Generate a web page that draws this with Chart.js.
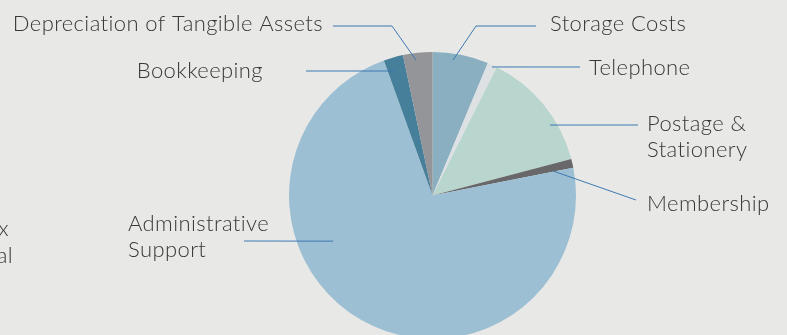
<!DOCTYPE html>
<html>
<head>
<meta charset="utf-8">
<script src="https://cdn.jsdelivr.net/npm/chart.js@4.4.1/dist/chart.umd.min.js"></script>
<style>
  html, body { margin: 0; padding: 0; background: #e8e8e7; }
  #wrap { width: 787px; height: 335px; overflow: hidden; position: relative; }
  canvas { display: block; }
</style>
</head>
<body>
<div id="wrap"><canvas id="c" width="787" height="345"></canvas></div>
<script>
// Office expense breakdown (% of total)
const categories = ['Storage Costs', 'Telephone', 'Postage & Stationery', 'Membership',
                    'Administrative Support', 'Bookkeeping', 'Depreciation of Tangible Assets'];
const shares = [6.3, 1.1, 13.5, 1.0, 72.6, 2.2, 3.3];
const sliceColors = ['#8aafc0', '#dde1e3', '#b8d5ce', '#68686b', '#9dbfd3', '#467f99', '#939599'];

// Label text per category (line breaks as shown)
const labelLines = [
  ['Storage Costs'], ['Telephone'], ['Postage &', 'Stationery'], ['Membership'],
  ['Administrative', 'Support'], ['Bookkeeping'], ['Depreciation of Tangible Assets']
];

// Callout layout: where the leader touches the slice (t = fraction across the slice angle,
// r = fraction of radius), the bend/end points of the leader, and text anchor.
const callouts = [
  { t: 0.38, r: 0.955, path: [[476, 26], [536, 26]], tx: 550, ty: 31, align: 'left' },
  { t: 0.545, r: 0.987, path: [[580, 67]], tx: 589, ty: 75, align: 'left' },
  { t: 0.667, r: 0.955, path: [[638, 125]], tx: 647, ty: 131, align: 'left' },
  { t: 0.91, r: 0.857, path: [[636, 200]], tx: 647, ty: 211, align: 'left' },
  { t: 0.637, r: 0.762, path: [[244, 241]], tx: 128, ty: 231, align: 'left' },
  { t: 0.384, r: 0.906, path: [[306, 71]], tx: 263, ty: 78, align: 'right' },
  { t: 0.416, r: 0.951, path: [[392, 26], [333, 26]], tx: 323, ty: 31, align: 'right' }
];

// Neighbouring label that runs off the left edge
const clippedLabel = { lines: ['Accountancy & Tax', 'Professional'], ends: [9, 13], baselines: [236, 263] };

const FONT = '300 22px Lato, "Open Sans", sans-serif';
const LINE_H = 26;

const calloutPlugin = {
  id: 'callouts',
  afterDatasetsDraw(chart) {
    const ctx = chart.ctx;
    const meta = chart.getDatasetMeta(0);
    ctx.save();
    ctx.strokeStyle = '#3d78b0';
    ctx.lineWidth = 1;
    ctx.font = FONT;
    ctx.letterSpacing = '0.4px';
    ctx.fillStyle = '#383838';
    ctx.textBaseline = 'alphabetic';
    callouts.forEach((c, i) => {
      const arc = meta.data[i];
      const a = arc.startAngle + c.t * (arc.endAngle - arc.startAngle);
      const rr = c.r * arc.outerRadius;
      const x0 = arc.x + rr * Math.cos(a);
      const y0 = arc.y + rr * Math.sin(a);
      ctx.beginPath();
      ctx.moveTo(x0, y0);
      c.path.forEach(p => ctx.lineTo(p[0], p[1]));
      ctx.stroke();
      ctx.textAlign = c.align;
      labelLines[i].forEach((ln, k) => ctx.fillText(ln, c.tx, c.ty + k * LINE_H));
    });
    ctx.textAlign = 'right';
    clippedLabel.lines.forEach((ln, k) => ctx.fillText(ln, clippedLabel.ends[k], clippedLabel.baselines[k]));
    ctx.restore();
  }
};

new Chart(document.getElementById('c'), {
  type: 'pie',
  data: {
    labels: categories,
    datasets: [{ data: shares, backgroundColor: sliceColors, borderWidth: 0 }]
  },
  options: {
    responsive: false,
    animation: false,
    devicePixelRatio: 1,
    layout: { padding: { left: 289, right: 211, top: 52, bottom: 6 } },
    plugins: { legend: { display: false }, tooltip: { enabled: false } }
  },
  plugins: [calloutPlugin]
});
</script>
</body>
</html>
